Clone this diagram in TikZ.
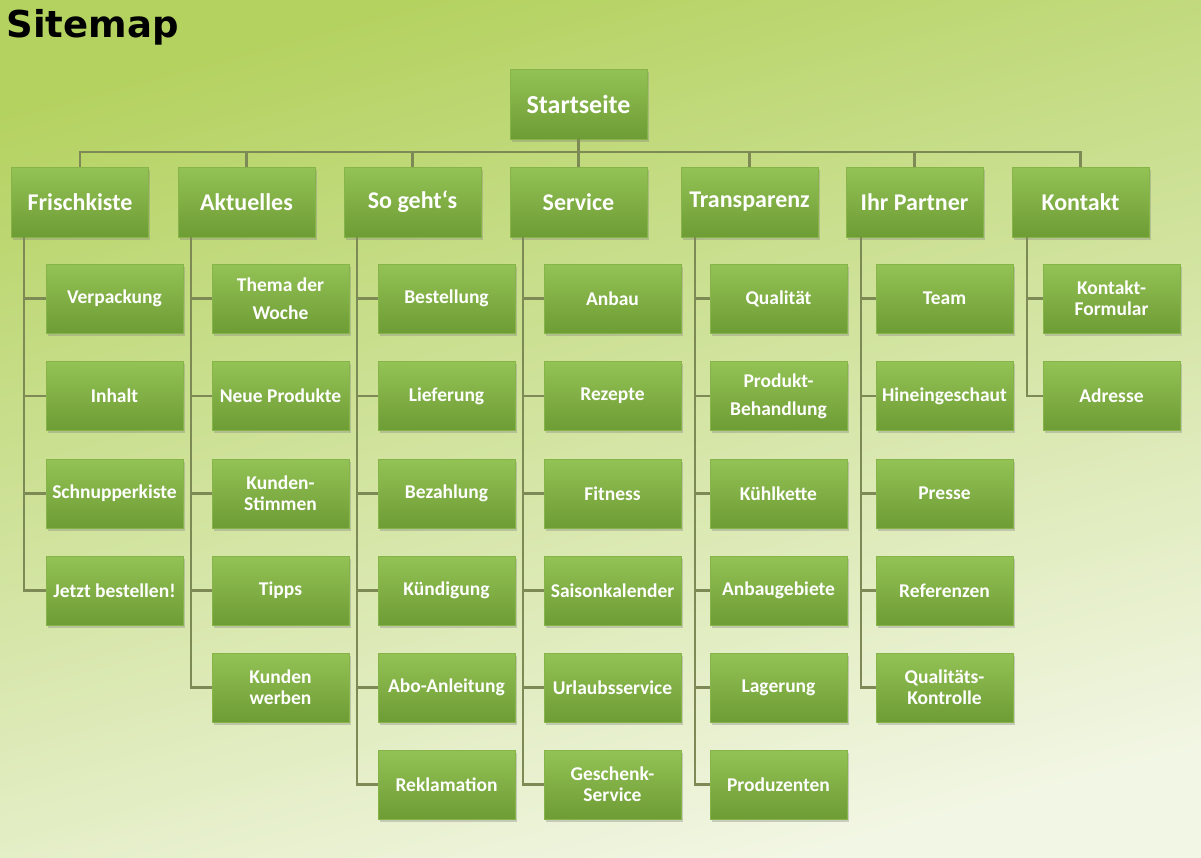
\documentclass[tikz,border=0pt]{standalone}
\usepackage{fontspec}
\setmainfont{Carlito}
\newfontfamily\titlefont{DejaVu Sans}
\usetikzlibrary{shadows}
\definecolor{bgtop}{HTML}{B4D260}
\definecolor{bgmid}{HTML}{D2E4A2}
\definecolor{bgbot}{HTML}{F2F6E4}
\definecolor{boxtop}{HTML}{93C255}
\definecolor{boxbot}{HTML}{6E9C35}
\definecolor{boxedge}{HTML}{86B449}
\definecolor{linec}{HTML}{7E8A55}
\tikzset{
  box/.style={rectangle, minimum width=137pt, minimum height=69pt, inner sep=2pt,
    top color=boxtop, bottom color=boxbot, draw=boxedge, line width=0.6pt,
    text=white, align=center, font=\bfseries\fontsize{19.5}{21}\selectfont,
    drop shadow={shadow xshift=1.5pt, shadow yshift=-2.5pt, opacity=0.35}},
  head/.style={box, minimum height=70pt, font=\bfseries\fontsize{24}{27}\selectfont},
  link/.style={draw=linec, line width=2.2pt}
}
\begin{document}
\begin{tikzpicture}[x=1pt,y=-1pt]
\shade[top color=bgtop, middle color=bgmid, bottom color=bgbot, shading angle=15] (0,0) rectangle (1201,857);
\useasboundingbox (0,0) rectangle (1201,857);
\node[anchor=west, font=\titlefont\bfseries\fontsize{37}{40}\selectfont] (title) at (3,27) {Sitemap};

\node[head, font=\bfseries\fontsize{26}{29}\selectfont] (start) at (578.5,104) {Startseite};
\node[head] (h1) at (80,202) {Frischkiste};
\node[head] (h2) at (246.5,202) {Aktuelles};
\node[head] (h3) at (412.5,202) {So geht‘s};
\node[head] (h4) at (578.5,202) {Service};
\node[head] (h5) at (749.5,202) {Transparenz};
\node[head] (h6) at (914.5,202) {Ihr Partner};
\node[head] (h7) at (1080.5,202) {Kontakt};

% Frischkiste
\node[box] (a1) at (114.5,298.5) {Verpackung};
\node[box] (a2) at (114.5,396) {Inhalt};
\node[box] (a3) at (114.5,493.5) {Schnupperkiste};
\node[box] (a4) at (114.5,590.5) {Jetzt bestellen!};
% Aktuelles
\node[box] (b1) at (280.5,298.5) {Thema der\\[7pt]Woche};
\node[box] (b2) at (280.5,396) {Neue Produkte};
\node[box] (b3) at (280.5,493.5) {Kunden-\\Stimmen};
\node[box] (b4) at (280.5,590.5) {Tipps};
\node[box] (b5) at (280.5,687.5) {Kunden\\werben};
% So geht's
\node[box] (c1) at (446.5,298.5) {Bestellung};
\node[box] (c2) at (446.5,396) {Lieferung};
\node[box] (c3) at (446.5,493.5) {Bezahlung};
\node[box] (c4) at (446.5,590.5) {Kündigung};
\node[box] (c5) at (446.5,687.5) {Abo-Anleitung};
\node[box] (c6) at (446.5,784.5) {Reklamation};
% Service
\node[box] (d1) at (612.5,298.5) {Anbau};
\node[box] (d2) at (612.5,396) {Rezepte};
\node[box] (d3) at (612.5,493.5) {Fitness};
\node[box] (d4) at (612.5,590.5) {Saisonkalender};
\node[box] (d5) at (612.5,687.5) {Urlaubsservice};
\node[box] (d6) at (612.5,784.5) {Geschenk-\\Service};
% Transparenz
\node[box] (e1) at (778.5,298.5) {Qualität};
\node[box] (e2) at (778.5,396) {Produkt-\\[7pt]Behandlung};
\node[box] (e3) at (778.5,493.5) {Kühlkette};
\node[box] (e4) at (778.5,590.5) {Anbaugebiete};
\node[box] (e5) at (778.5,687.5) {Lagerung};
\node[box] (e6) at (778.5,784.5) {Produzenten};
% Ihr Partner
\node[box] (f1) at (944.5,298.5) {Team};
\node[box] (f2) at (944.5,396) {Hineingeschaut};
\node[box] (f3) at (944.5,493.5) {Presse};
\node[box] (f4) at (944.5,590.5) {Referenzen};
\node[box] (f5) at (944.5,687.5) {Qualitäts-\\Kontrolle};
% Kontakt
\node[box] (g1) at (1111.5,298.5) {Kontakt-\\Formular};
\node[box] (g2) at (1111.5,396) {Adresse};

% connectors
\foreach \h in {h1,h2,h3,h4,h5,h6,h7}
  \draw[link] (start.south) -- ++(0,13) -| (\h.north);
\foreach \c in {a1,a2,a3,a4}
  \draw[link] ([xshift=13pt]h1.south west) |- (\c.west);
\foreach \c in {b1,b2,b3,b4,b5}
  \draw[link] ([xshift=13pt]h2.south west) |- (\c.west);
\foreach \c in {c1,c2,c3,c4,c5,c6}
  \draw[link] ([xshift=13pt]h3.south west) |- (\c.west);
\foreach \c in {d1,d2,d3,d4,d5,d6}
  \draw[link] ([xshift=13pt]h4.south west) |- (\c.west);
\foreach \c in {e1,e2,e3,e4,e5,e6}
  \draw[link] ([xshift=14pt]h5.south west) |- (\c.west);
\foreach \c in {f1,f2,f3,f4,f5}
  \draw[link] ([xshift=15pt]h6.south west) |- (\c.west);
\foreach \c in {g1,g2}
  \draw[link] ([xshift=15pt]h7.south west) |- (\c.west);
\end{tikzpicture}
\end{document}
